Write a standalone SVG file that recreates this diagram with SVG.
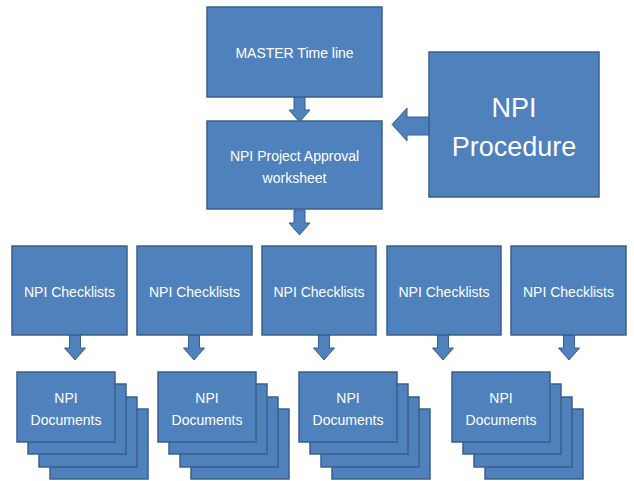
<svg xmlns="http://www.w3.org/2000/svg" width="634" height="481" viewBox="0 0 634 481">
<defs>
<style>
.b{fill:#4f81bd;stroke:#3a5f8c;stroke-width:1.5}
.a{fill:#4f81bd;stroke:#3a5f8c;stroke-width:1}
text{font-family:"Liberation Sans",Arial,sans-serif;fill:#ffffff;text-anchor:middle;font-size:14px}
.big{font-size:27px}
</style>
<path id="dn" class="a" d="M-5.5,0 H5.5 V13 H10.5 L0,25 L-10.5,13 H-5.5 Z"/>
<g id="stack">
<rect class="b" x="33" y="37" width="98" height="70"/>
<rect class="b" x="22" y="25" width="98" height="70"/>
<rect class="b" x="11" y="12" width="98" height="70"/>
<rect class="b" x="0" y="0" width="98" height="70"/>
<text x="49" y="31">NPI</text>
<text x="49" y="53">Documents</text>
</g>
</defs>
<g id="connectors">
<use href="#dn" x="299.5" y="97"/>
<use href="#dn" x="299.5" y="210"/>
<path class="a" d="M430,117 V135 H407 V141 L392,124.5 L407,108 V117 Z"/>
<use href="#dn" x="75" y="335"/>
<use href="#dn" x="194" y="335"/>
<use href="#dn" x="324" y="335"/>
<use href="#dn" x="443" y="335"/>
<use href="#dn" x="569" y="335"/>
</g>
<g id="master"><rect class="b" x="207" y="7" width="175" height="90"/><text x="294.5" y="58">MASTER Time line</text></g>
<g id="approval"><rect class="b" x="207" y="121" width="175" height="88"/><text x="294.5" y="161">NPI Project Approval</text><text x="294.5" y="183">worksheet</text></g>
<g id="procedure"><rect class="b" x="429" y="52" width="170" height="145"/><text class="big" x="514" y="117">NPI</text><text class="big" x="514" y="156">Procedure</text></g>
<g id="check1"><rect class="b" x="12" y="246" width="115" height="89"/><text x="69.5" y="297">NPI Checklists</text></g>
<g id="check2"><rect class="b" x="137" y="246" width="115" height="89"/><text x="194.5" y="297">NPI Checklists</text></g>
<g id="check3"><rect class="b" x="262" y="246" width="114" height="89"/><text x="319" y="297">NPI Checklists</text></g>
<g id="check4"><rect class="b" x="387" y="246" width="114" height="89"/><text x="444" y="297">NPI Checklists</text></g>
<g id="check5"><rect class="b" x="511" y="246" width="115" height="89"/><text x="568.5" y="297">NPI Checklists</text></g>
<g id="docs1"><use href="#stack" x="17" y="372"/></g>
<g id="docs2"><use href="#stack" x="158" y="372"/></g>
<g id="docs3"><use href="#stack" x="299" y="372"/></g>
<g id="docs4"><use href="#stack" x="452" y="372"/></g>
</svg>
